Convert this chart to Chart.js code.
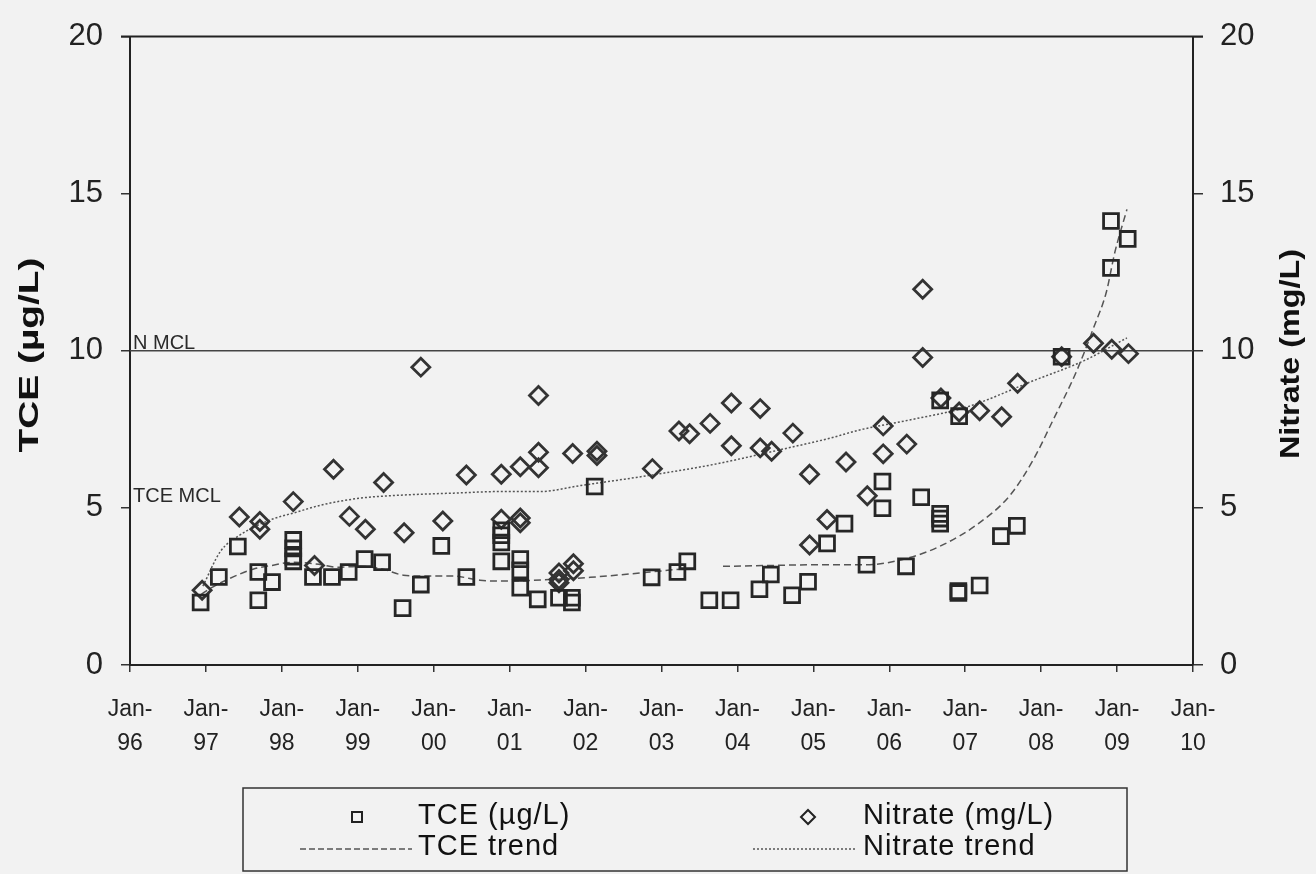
<!DOCTYPE html>
<html>
<head>
<meta charset="utf-8">
<script src="https://cdn.jsdelivr.net/npm/chart.js@4.4.1/dist/chart.umd.min.js"></script>
<style>
html,body{margin:0;padding:0;background:#f2f2f2;}
#wrap{width:1316px;height:874px;position:relative;}
</style>
</head>
<body>
<div id="wrap"><canvas id="c" width="1316" height="874"></canvas></div>
<script>
// ---- Data (decimal years) ----
const tceDates = [1996.93,1997.17,1997.42,1997.69,1997.69,1997.87,1998.15,1998.15,1998.15,1998.15,1998.41,1998.66,1998.88,1999.09,1999.32,1999.59,1999.83,2000.10,2000.43,2000.89,2000.89,2000.89,2000.89,2001.14,2001.14,2001.14,2001.37,2001.65,2001.82,2001.82,2002.12,2002.87,2003.21,2003.34,2003.63,2003.91,2004.29,2004.44,2004.72,2004.93,2005.18,2005.41,2005.70,2005.91,2005.91,2006.22,2006.42,2006.67,2006.67,2006.67,2006.67,2006.91,2006.91,2006.92,2007.19,2007.47,2007.68,2008.27,2008.92,2008.92,2009.14];
const tceValues = [1.99,2.80,3.77,2.96,2.06,2.64,3.98,3.71,3.45,3.30,2.80,2.80,2.96,3.37,3.27,1.81,2.56,3.79,2.80,4.29,4.13,3.90,3.30,3.37,3.01,2.46,2.09,2.14,2.14,1.99,5.68,2.79,2.96,3.30,2.06,2.06,2.41,2.88,2.22,2.65,3.87,4.50,3.19,5.84,4.99,3.14,5.34,4.81,4.66,4.50,8.42,2.35,2.29,7.92,2.53,4.10,4.43,9.81,14.13,12.64,13.56];

const nitrateDates = [1996.95,1997.44,1997.71,1997.71,1998.15,1998.43,1998.68,1998.89,1999.10,1999.34,1999.61,1999.83,2000.12,2000.43,2000.89,2000.89,2001.14,2001.14,2001.14,2001.38,2001.38,2001.38,2001.65,2001.65,2001.65,2001.84,2001.84,2001.83,2002.15,2002.15,2002.88,2003.23,2003.37,2003.64,2003.92,2003.92,2004.30,2004.30,2004.45,2004.73,2004.95,2004.95,2005.18,2005.43,2005.71,2005.92,2005.92,2006.23,2006.44,2006.44,2006.68,2006.92,2007.19,2007.48,2007.69,2008.27,2008.69,2008.93,2009.15];
const nitrateValues = [2.38,4.71,4.57,4.32,5.20,3.17,6.23,4.73,4.32,5.81,4.21,9.48,4.58,6.05,6.07,4.64,6.31,4.68,4.53,8.58,6.77,6.28,2.93,2.72,2.62,3.22,3.00,6.73,6.80,6.67,6.25,7.45,7.36,7.69,8.34,6.98,8.16,6.91,6.80,7.38,6.07,3.82,4.63,6.46,5.39,7.61,6.72,7.03,11.96,9.79,8.50,8.05,8.09,7.90,8.97,9.81,10.24,10.05,9.91];

const tceTrendADates = [1996.94,1997.03,1997.32,1997.62,1997.87,1998.15,1998.50,1998.73,1999.03,1999.33,1999.60,1999.91,2000.25,2000.61,2000.87,2001.62,2002.06,2002.81,2003.24];
const tceTrendAValues = [2.25,2.40,2.76,3.05,3.17,3.27,3.20,3.11,3.14,3.05,2.86,2.83,2.83,2.70,2.67,2.73,2.79,2.95,3.05];

const tceTrendBDates = [2003.81,2004.50,2005.00,2005.70,2006.27,2006.71,2007.15,2007.59,2007.90,2008.16,2008.47,2008.69,2008.86,2008.97,2009.13];
const tceTrendBValues = [3.14,3.17,3.19,3.19,3.42,3.83,4.46,5.40,6.55,7.81,9.37,10.73,11.88,13.13,14.50];

const nitrateTrendDates = [1996.96,1997.19,1997.45,1997.84,1998.20,1998.50,1999.03,1999.60,2000.26,2000.87,2001.40,2001.93,2002.80,2003.68,2004.56,2005.22,2005.61,2006.27,2007.02,2007.90,2008.56,2009.13];
const nitrateTrendValues = [2.51,3.61,4.14,4.61,4.87,5.08,5.31,5.41,5.47,5.52,5.52,5.71,6.02,6.38,6.85,7.22,7.48,7.80,8.21,9.05,9.68,10.41];

const nMclDates = [1996,2010];
const nMclValues = [10,10];
const tceMclValue = 5;

const xTickYears = [1996,1997,1998,1999,2000,2001,2002,2003,2004,2005,2006,2007,2008,2009,2010];
const xTickLabels = ['96','97','98','99','00','01','02','03','04','05','06','07','08','09','10'];
const yTickValues = [0,5,10,15,20];

// ---- helpers ----
const zip = (xs, ys) => xs.map((x, i) => ({x: x, y: ys[i]}));
const FONT = "'Liberation Sans', Arial, Helvetica, sans-serif";
const INK = '#222';

function stretchedText(ctx, text, cx, cy, targetLen, rotate) {
  const w = ctx.measureText(text).width;
  const sx = targetLen / w;
  ctx.save();
  ctx.translate(cx, cy);
  if (rotate) ctx.rotate(-Math.PI / 2);
  ctx.scale(sx, 1);
  ctx.textAlign = 'center';
  ctx.textBaseline = 'middle';
  ctx.fillText(text, 0, 0);
  ctx.restore();
}

const decor = {
  id: 'decor',
  beforeDraw(chart) {
    const ctx = chart.ctx;
    ctx.save();
    ctx.fillStyle = '#f2f2f2';
    ctx.fillRect(0, 0, chart.width, chart.height);
    ctx.restore();
  },
  afterDraw(chart) {
    const ctx = chart.ctx;
    const a = chart.chartArea;
    const y = chart.scales.y;
    ctx.save();
    // top frame line
    ctx.strokeStyle = INK; ctx.lineWidth = 2;
    ctx.beginPath(); ctx.moveTo(a.left - 9, a.top); ctx.lineTo(a.right + 10, a.top); ctx.stroke();

    // MCL labels
    ctx.fillStyle = '#2a2a2a';
    ctx.font = '20px ' + FONT;
    ctx.textAlign = 'left'; ctx.textBaseline = 'alphabetic';
    ctx.fillText('N MCL', a.left + 3, y.getPixelForValue(nMclValues[0]) - 2);
    ctx.fillText('TCE MCL', a.left + 3, y.getPixelForValue(tceMclValue) - 6);

    // axis titles
    ctx.fillStyle = '#111';
    ctx.font = 'bold 28px ' + FONT;
    stretchedText(ctx, 'TCE (µg/L)', 30, 355, 195, true);
    ctx.font = 'bold 27px ' + FONT;
    stretchedText(ctx, 'Nitrate (mg/L)', 1292, 354, 210, true);

    // legend
    const L = {x0: 243, y0: 788, x1: 1127, y1: 871};
    ctx.strokeStyle = '#333'; ctx.lineWidth = 1.5;
    ctx.strokeRect(L.x0, L.y0, L.x1 - L.x0, L.y1 - L.y0);
    const r1 = 816, r2 = 847;
    ctx.font = '29px ' + FONT;
    ctx.fillStyle = '#111';
    ctx.textAlign = 'left'; ctx.textBaseline = 'middle';
    ctx.letterSpacing = '1px';
    ctx.fillText('TCE (µg/L)', 418, r1);
    ctx.fillText('TCE trend', 418, r2);
    ctx.fillText('Nitrate (mg/L)', 863, r1);
    ctx.fillText('Nitrate trend', 863, r2);
    ctx.letterSpacing = '0px';
    // square marker
    ctx.strokeStyle = '#222'; ctx.lineWidth = 2;
    ctx.strokeRect(352, r1 - 4, 10, 10);
    // diamond marker
    ctx.beginPath();
    ctx.moveTo(808, r1 - 6); ctx.lineTo(815, r1 + 1); ctx.lineTo(808, r1 + 8); ctx.lineTo(801, r1 + 1); ctx.closePath();
    ctx.stroke();
    // trend samples
    ctx.strokeStyle = '#555'; ctx.lineWidth = 1.5;
    ctx.setLineDash([6, 3]);
    ctx.beginPath(); ctx.moveTo(300, r2 + 2); ctx.lineTo(412, r2 + 2); ctx.stroke();
    ctx.setLineDash([2, 2]);
    ctx.beginPath(); ctx.moveTo(753, r2 + 2); ctx.lineTo(857, r2 + 2); ctx.stroke();
    ctx.setLineDash([]);
    ctx.restore();
  }
};

const tickFont = {family: FONT, size: 31};

new Chart(document.getElementById('c'), {
  type: 'scatter',
  data: {
    datasets: [
      {label: 'N MCL', data: zip(nMclDates, nMclValues), showLine: true, borderColor: '#444', borderWidth: 1.5, pointRadius: 0, yAxisID: 'y', order: 5},
      {label: 'TCE trend A', data: zip(tceTrendADates, tceTrendAValues), showLine: true, borderColor: '#555', borderWidth: 1.5, borderDash: [7, 4], pointRadius: 0, cubicInterpolationMode: 'monotone', yAxisID: 'y', order: 4},
      {label: 'TCE trend B', data: zip(tceTrendBDates, tceTrendBValues), showLine: true, borderColor: '#555', borderWidth: 1.5, borderDash: [7, 4], pointRadius: 0, cubicInterpolationMode: 'monotone', yAxisID: 'y', order: 4},
      {label: 'Nitrate trend', data: zip(nitrateTrendDates, nitrateTrendValues), showLine: true, borderColor: '#555', borderWidth: 1.5, borderDash: [2, 2], pointRadius: 0, cubicInterpolationMode: 'monotone', yAxisID: 'y1', order: 4},
      {label: 'Nitrate (mg/L)', data: zip(nitrateDates, nitrateValues), pointStyle: 'rectRot', pointRadius: 9, pointBorderWidth: 2.8, pointBorderColor: '#333', pointBackgroundColor: 'rgba(0,0,0,0)', yAxisID: 'y1', order: 2},
      {label: 'TCE (µg/L)', data: zip(tceDates, tceValues), pointStyle: 'rect', pointRadius: 10.5, pointBorderWidth: 2.8, pointBorderColor: '#262626', pointBackgroundColor: 'rgba(0,0,0,0)', yAxisID: 'y', order: 1}
    ]
  },
  options: {
    responsive: false,
    animation: false,
    devicePixelRatio: 1,
    layout: {padding: {left: 0, right: 0, top: 28, bottom: 109}},
    plugins: {legend: {display: false}, tooltip: {enabled: false}},
    scales: {
      x: {
        type: 'linear', position: 'bottom', min: xTickYears[0], max: xTickYears[xTickYears.length - 1],
        afterBuildTicks: (s) => { s.ticks = xTickYears.map(v => ({value: v})); },
        afterFit: (s) => { s.height = 100; },
        ticks: {
          autoSkip: false, maxRotation: 0, minRotation: 0, padding: 21, color: INK,
          font: {family: FONT, size: 23, lineHeight: 1.48},
          callback: (v) => { const i = xTickYears.indexOf(v); return ['Jan-', i >= 0 ? xTickLabels[i] : '']; }
        },
        grid: {drawOnChartArea: false, drawTicks: true, tickLength: 7, color: '#333', lineWidth: 1.5},
        border: {display: true, color: INK, width: 2}
      },
      y: {
        position: 'left', min: 0, max: 20,
        afterBuildTicks: (s) => { s.ticks = yTickValues.map(v => ({value: v})); },
        afterFit: (s) => { s.width = 130; },
        ticks: {padding: 18, color: INK, font: tickFont},
        grid: {drawOnChartArea: false, drawTicks: true, tickLength: 9, color: '#333', lineWidth: 1.5},
        border: {display: true, color: INK, width: 2}
      },
      y1: {
        position: 'right', min: 0, max: 20,
        afterBuildTicks: (s) => { s.ticks = yTickValues.map(v => ({value: v})); },
        afterFit: (s) => { s.width = 123; },
        ticks: {padding: 17, color: INK, font: tickFont},
        grid: {drawOnChartArea: false, drawTicks: true, tickLength: 10, color: '#333', lineWidth: 1.5},
        border: {display: true, color: INK, width: 2}
      }
    }
  },
  plugins: [decor]
});
</script>
</body>
</html>
